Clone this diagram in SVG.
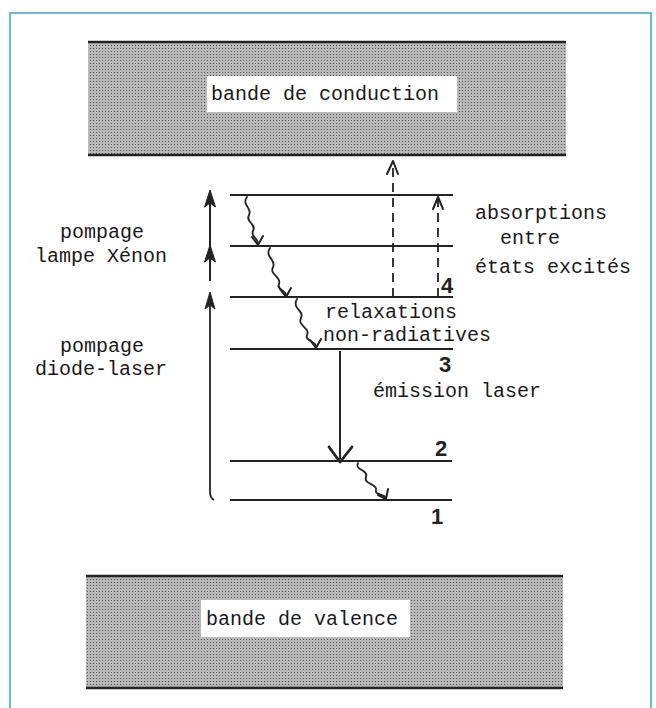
<svg xmlns="http://www.w3.org/2000/svg" width="656" height="708" viewBox="0 0 656 708">
<defs>
<pattern id="dots" width="3" height="3" patternUnits="userSpaceOnUse">
<rect width="3" height="3" fill="#d2d2d2"/>
<rect x="0" y="0" width="1" height="1" fill="#5a5a5a"/>
<rect x="1.5" y="1.5" width="1" height="1" fill="#6a6a6a"/>
<rect x="1.5" y="0" width="1" height="1" fill="#9d9d9d"/>
<rect x="0" y="1.5" width="1" height="1" fill="#9d9d9d"/>
</pattern>
</defs>
<style>
.t{font-family:"Liberation Mono","DejaVu Sans Mono",monospace;font-size:20px;fill:#1a1a1a}
.n{font-family:"Liberation Sans",Arial,sans-serif;font-size:22px;font-weight:bold;fill:#222;text-anchor:middle}
.lvl{stroke:#222;stroke-width:2;fill:none}
.edge{stroke:#222;stroke-width:2.5}
.w{stroke:#222;stroke-width:1.8;fill:none;stroke-linecap:round;stroke-linejoin:round}
.d{stroke:#222;stroke-width:1.8;fill:none;stroke-dasharray:9,6}
.ah{stroke:#222;stroke-width:2;fill:none;stroke-linecap:round;stroke-linejoin:round}
.fh{fill:#222;stroke:#222;stroke-width:1}
</style>
<rect width="656" height="708" fill="#fff"/>
<g id="frame" fill="none" stroke="#6bbad8" stroke-width="2">
<path d="M10,708 L10,13 L651,13 L651,708"/>
</g>
<g id="conduction-band">
<rect x="88" y="42" width="478" height="113" fill="url(#dots)"/>
<line class="edge" x1="88" y1="42" x2="566" y2="42"/>
<line class="edge" x1="88" y1="155" x2="566" y2="155"/>
<rect x="207" y="76" width="250" height="36" fill="#fff"/>
<text class="t" x="211" y="100">bande de conduction</text>
</g>
<g id="valence-band">
<rect x="86" y="576" width="477" height="112" fill="url(#dots)"/>
<line class="edge" x1="86" y1="576" x2="563" y2="576"/>
<line class="edge" x1="86" y1="688" x2="563" y2="688"/>
<rect x="201" y="600" width="209" height="37" fill="#fff"/>
<text class="t" x="206" y="625">bande de valence</text>
</g>
<g id="levels">
<line class="lvl" x1="230" y1="195" x2="453" y2="195"/>
<line class="lvl" x1="230" y1="246" x2="453" y2="246"/>
<line class="lvl" x1="230" y1="297" x2="453" y2="297"/>
<line class="lvl" x1="230" y1="349" x2="453" y2="349"/>
<line class="lvl" x1="230" y1="461" x2="452" y2="461"/>
<line class="lvl" x1="230" y1="500" x2="452" y2="500"/>
</g>
<g id="level-numbers">
<text class="n" x="447" y="293">4</text>
<text class="n" x="445" y="372">3</text>
<text class="n" x="441" y="456">2</text>
<text class="n" x="437" y="524">1</text>
</g>
<g id="labels">
<text class="t" x="60" y="238">pompage</text>
<text class="t" x="35" y="262">lampe Xénon</text>
<text class="t" x="60" y="352">pompage</text>
<text class="t" x="35" y="375">diode-laser</text>
<text class="t" x="475" y="219">absorptions</text>
<text class="t" x="500" y="244">entre</text>
<text class="t" x="475" y="273">états excités</text>
<text class="t" x="325" y="318">relaxations</text>
<text class="t" x="323" y="341">non-radiatives</text>
<text class="t" x="373" y="397">émission laser</text>
</g>
<g id="connectors">
<line x1="210" y1="194" x2="210" y2="281" stroke="#222" stroke-width="2"/>
<path class="fh" d="M210,190 L204.5,207 L210,203 L215.5,207 Z"/>
<path class="fh" d="M210,245 L204.5,262 L210,258 L215.5,262 Z"/>
<path d="M210,296 L210,492 Q210,498 214,500" stroke="#222" stroke-width="1.8" fill="none"/>
<path class="fh" d="M210,292 L205,309 L210,305 L215,309 Z"/>
<path class="w" d="M247,197 C241,205 253,208 249,215 C245,222 257,224 253,231 C250,237 259,238 258,244"/>
<path class="ah" d="M252,237 L258,245 L263,236"/>
<path class="w" d="M270,248 C264,257 277,260 273,267 C269,275 282,277 279,284 C276,290 287,290 286,296"/>
<path class="ah" d="M280,289 L286,297 L291,288"/>
<path class="w" d="M297,299 C291,308 305,311 301,318 C297,326 311,328 307,335 C304,341 317,341 316,347"/>
<path class="ah" d="M310,340 L316,348 L321,339"/>
<path class="w" d="M358,463 C354,470 369,470 366,477 C363,484 378,484 376,490 C374,495 385,494 386,498"/>
<path class="ah" d="M378,495 L386,499 L388,489"/>
<line x1="340" y1="351" x2="340" y2="459" stroke="#222" stroke-width="2"/>
<path d="M329,447 L340,462 L352,447" stroke="#222" stroke-width="2.8" fill="none" stroke-linejoin="round" stroke-linecap="round"/>
<line class="d" x1="393" y1="297" x2="393" y2="163"/>
<path class="ah" d="M387,174 L393,161 L398,174"/>
<line class="d" x1="438" y1="297" x2="438" y2="199"/>
<path class="ah" d="M433,209 L438,197 L443,209"/>
</g>
</svg>
